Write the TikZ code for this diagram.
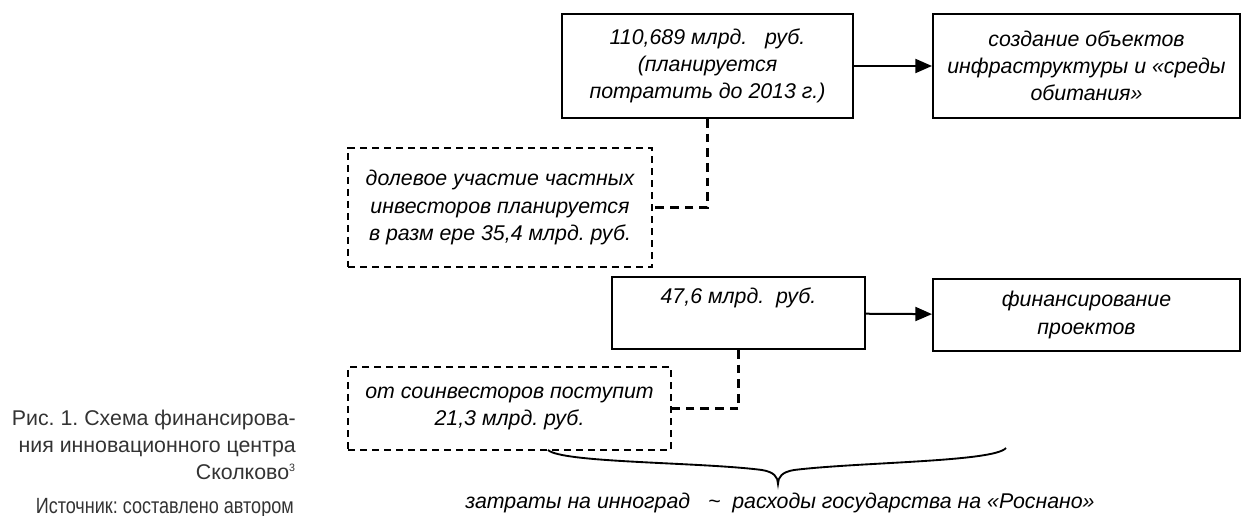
\documentclass[tikz,border=0pt]{standalone}
\usepackage{fontspec}
\setmainfont{Liberation Sans}
\newfontfamily\narrowfont{Liberation Sans}[FakeStretch=0.82]
\usetikzlibrary{arrows.meta}
\definecolor{capgray}{HTML}{333333}

\begin{document}
\frenchspacing
\begin{tikzpicture}[x=0.75pt,y=-0.75pt,
    box/.style={draw,line width=1.5pt,align=center,font=\fontsize{16}{20.3}\selectfont\itshape,inner sep=0pt},
    dbox/.style={box,line width=1.4pt,dash pattern=on 5.5pt off 3.5pt},
    share/.style={draw,line width=2.2pt,dash pattern=on 6.5pt off 4.5pt},
    feed/.style={draw,line width=1.5pt,-{Triangle[length=12.5pt,width=10.5pt]}},
    figcaption/.style={align=right,text=capgray,font=\fontsize{16}{20.3}\selectfont,inner sep=0pt}]
\useasboundingbox (0,0) rectangle (1242,516);
    \node [box,minimum width=291*0.75pt,minimum height=104*0.75pt] (plan) at (707.5,66)
        {110,689 млрд.~~~руб.\\(планируется\\потратить до 2013 г.)};
    \node [box,minimum width=307*0.75pt,minimum height=104*0.75pt] (infra) at (1086.5,66)
        {создание объектов\\инфраструктуры и «среды\\обитания»};
    \node [dbox,minimum width=304*0.75pt,minimum height=119*0.75pt] (priv) at (500,207.5)
        {долевое участие частных\\инвесторов планируется\\в разм ере 35,4 млрд. руб.};
\draw [feed] (plan) to (infra);
\draw [share] (plan.south) |- (priv.east);
    \node [box,minimum width=253*0.75pt,minimum height=72*0.75pt] (fund) at (738.5,313)
        {47,6 млрд.~~руб.\\ \strut};
    \node [box,minimum width=307*0.75pt,minimum height=72*0.75pt] (proj) at (1086.5,315)
        {финансирование\\проектов};
    \node [dbox,minimum width=323*0.75pt,minimum height=83*0.75pt] (coinv) at (509.5,408.5)
        {от соинвесторов поступит\\21,3 млрд. руб.};
\draw [feed] (fund) to (proj);
\draw [share] (fund.south) |- (coinv.east);
% фигурная скобка под схемой
\coordinate (bl) at (548,450);
\coordinate (tip) at (778,484);
\coordinate (br) at (1006,448);
\draw [line width=1.4pt] (bl) .. controls (562,463) and (700,462) .. (762,470)
    .. controls (774,472) and (778,477) .. (tip)
    .. controls (778,477) and (782,472) .. (794,470)
    .. controls (860,462) and (994,462) .. (br);
\node [font=\fontsize{16}{20.3}\selectfont\itshape,inner sep=0pt] (sum) at (780,503)
    {затраты на инноград~~~\textasciitilde~~расходы государства на «Роснано»};
% подпись
\node [figcaption,anchor=east] (title) at (296,445)
    {Рис. 1. Схема финансирова-\\ния инновационного центра\\Сколково\textsuperscript{\footnotesize 3}};
\node [figcaption,anchor=east,font=\fontsize{16.5}{20.3}\selectfont\narrowfont] (src) at (294,508)
    {Источник: составлено автором};
  \end{tikzpicture}
\end{document}
